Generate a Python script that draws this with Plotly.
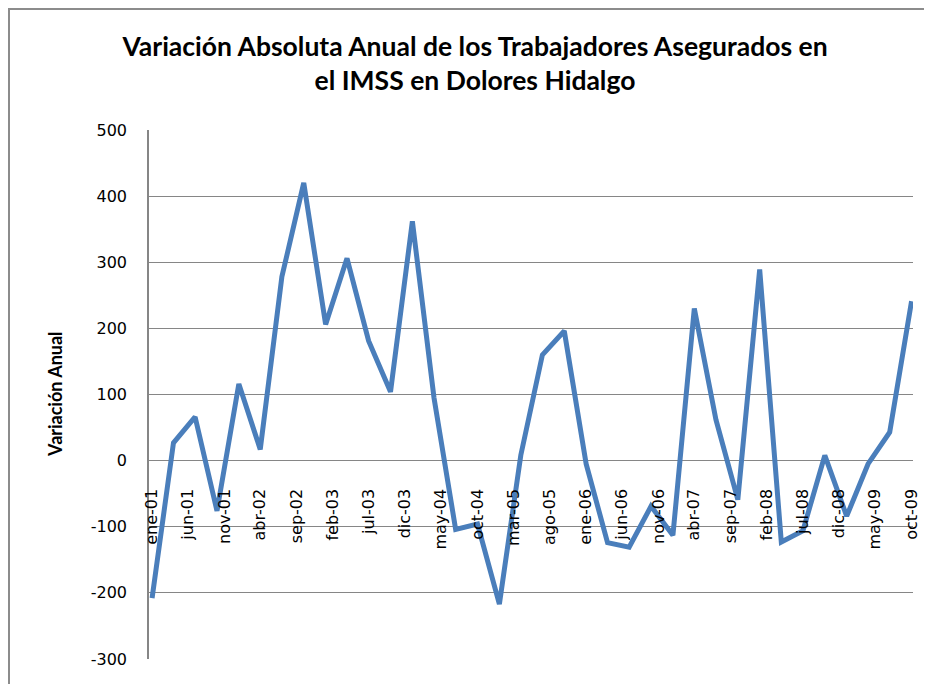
import plotly.graph_objects as go

# Quarterly observations, Jan 2001 .. Oct 2009
fechas = [f"{y}-{m:02d}-01" for y in range(2001, 2010) for m in (1, 4, 7, 10)]
variacion = [-208, 27, 66, -76,
             116, 17, 278, 420,
             206, 306, 181, 104,
             362, 95, -104, -96,
             -217, 8, 160, 196,
             -5, -124, -131, -69,
             -113, 230, 62, -59,
             289, -123, -106, 8,
             -84, -5, 43, 241]

# Tick labels every 5 months
meses = ["ene", "feb", "mar", "abr", "may", "jun", "jul", "ago", "sep", "oct", "nov", "dic"]
tick_idx = list(range(0, 106, 5))
tick_vals = [f"{2001 + i // 12}-{i % 12 + 1:02d}-01" for i in tick_idx]
tick_text = [f"{meses[i % 12]}-{(1 + i // 12):02d}" for i in tick_idx]

y_ticks = [-300, -200, -100, 0, 100, 200, 300, 400, 500]
y_labels = [str(v) for v in y_ticks]

OFF = 8  # page body margin
W, H = 924, 676
L, T = 149 - OFF, 130 - OFF
R = W - (913 - OFF)
B = H - (659 - OFF)
pw, ph = W - L - R, H - T - B

def px_x(sx):
    return (sx - OFF - L) / pw

def px_y(sy):
    return 1 - (sy - OFF - T) / ph

GRID = "#868686"
TICKFONT = dict(family="DejaVu Sans", size=16, color="black")

fig = go.Figure()
fig.add_trace(go.Scatter(
    x=fechas, y=variacion, mode="lines",
    line=dict(color="#4A7EBB", width=5),
    hoverinfo="x+y", showlegend=False,
))

fig.update_layout(
    width=W, height=H,
    margin=dict(l=L, r=R, t=T, b=B, autoexpand=False),
    paper_bgcolor="white", plot_bgcolor="white",
    title=dict(
        text="Variación Absoluta Anual de los Trabajadores Asegurados en<br>el IMSS en Dolores Hidalgo",
        x=(475 - OFF) / W, xanchor="center", y=1 - 48 / H, yanchor="middle", yref="container",
        font=dict(family="Lato", size=26.5, color="black", weight="bold"),
    ),
    xaxis=dict(
        type="date",
        range=["2000-12-19", "2009-10-07"],
        tickmode="array", tickvals=tick_vals, ticktext=tick_text,
        tickangle=-90, ticks="", showgrid=False, showline=False, zeroline=False,
        anchor="free", position=0.375, ticklabelstandoff=24,
        tickfont=TICKFONT,
    ),
    yaxis=dict(
        range=[-300, 500], tickmode="array", tickvals=y_ticks, ticktext=y_labels,
        showgrid=True, gridcolor=GRID, gridwidth=1.3,
        zeroline=True, zerolinecolor=GRID, zerolinewidth=1.3,
        showline=True, linecolor=GRID, linewidth=1.6,
        ticks="", ticklabelstandoff=17,
        tickfont=TICKFONT,
    ),
    annotations=[dict(
        text="<b>Variación Anual</b>", textangle=-90,
        xref="paper", yref="paper", x=px_x(55), y=px_y(394),
        xanchor="center", yanchor="middle", showarrow=False,
        font=dict(family="Lato", size=18, color="black"),
    )],
    shapes=[dict(
        type="rect", xref="paper", yref="paper",
        x0=px_x(9), y0=px_y(720), x1=px_x(960), y1=px_y(9),
        line=dict(color="#8C8C8C", width=2), fillcolor="rgba(0,0,0,0)", layer="below",
    )],
)

fig.write_html("out.html")
